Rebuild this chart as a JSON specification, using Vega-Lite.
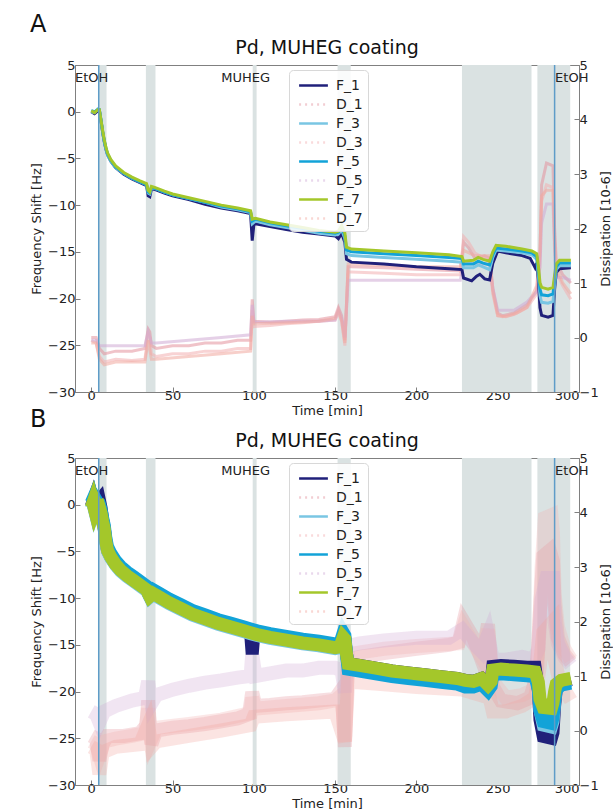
{
  "$schema": "https://vega.github.io/schema/vega-lite/v6.json",
  "padding": {"left": 30, "top": 12, "right": 0, "bottom": 0},
  "spacing": -11,
  "resolve": {"scale": {"color": "independent"}},
  "datasets": {
    "regions": [
      {"t": 4.6, "t2": 9.4}, {"t": 33.6, "t2": 39.5}, {"t": 99.3, "t2": 101.7},
      {"t": 151.5, "t2": 159.6}, {"t": 228, "t2": 270.8}, {"t": 274.4, "t2": 294.6}
    ],
    "events": [{"t": 4.6}, {"t": 285}],
    "notes": [{"label": "EtOH", "t": -10}, {"label": "MUHEG", "t": 80}, {"label": "EtOH", "t": 285.3}],
    "fA": [
      {"s":"F_1","t":0,"v":0.0},{"s":"F_1","t":2,"v":-0.2},{"s":"F_1","t":4,"v":0.1},{"s":"F_1","t":5,"v":0.1},{"s":"F_1","t":6,"v":-1.0},{"s":"F_1","t":7,"v":-2.2},{"s":"F_1","t":8,"v":-3.2},{"s":"F_1","t":9,"v":-4.0},{"s":"F_1","t":10,"v":-4.6},{"s":"F_1","t":12,"v":-5.3},{"s":"F_1","t":15,"v":-6.0},{"s":"F_1","t":20,"v":-6.7},{"s":"F_1","t":25,"v":-7.2},{"s":"F_1","t":30,"v":-7.6},{"s":"F_1","t":34,"v":-7.9},{"s":"F_1","t":35,"v":-9.0},{"s":"F_1","t":36,"v":-9.1},{"s":"F_1","t":37,"v":-8.3},{"s":"F_1","t":39,"v":-8.3},{"s":"F_1","t":45,"v":-8.7},{"s":"F_1","t":50,"v":-9.0},{"s":"F_1","t":60,"v":-9.4},{"s":"F_1","t":70,"v":-9.9},{"s":"F_1","t":80,"v":-10.3},{"s":"F_1","t":90,"v":-10.6},{"s":"F_1","t":98,"v":-10.9},{"s":"F_1","t":99,"v":-13.8},{"s":"F_1","t":100,"v":-12.1},{"s":"F_1","t":101,"v":-12.0},{"s":"F_1","t":110,"v":-12.3},{"s":"F_1","t":120,"v":-12.6},{"s":"F_1","t":130,"v":-12.9},{"s":"F_1","t":140,"v":-13.1},{"s":"F_1","t":150,"v":-13.3},{"s":"F_1","t":152,"v":-13.6},{"s":"F_1","t":154,"v":-13.0},{"s":"F_1","t":156,"v":-14.0},{"s":"F_1","t":157,"v":-15.8},{"s":"F_1","t":160,"v":-16.1},{"s":"F_1","t":180,"v":-16.3},{"s":"F_1","t":200,"v":-16.6},{"s":"F_1","t":220,"v":-16.8},{"s":"F_1","t":228,"v":-16.9},{"s":"F_1","t":229,"v":-17.8},{"s":"F_1","t":234,"v":-18.1},{"s":"F_1","t":237,"v":-17.6},{"s":"F_1","t":239,"v":-17.4},{"s":"F_1","t":242,"v":-17.9},{"s":"F_1","t":245,"v":-18.0},{"s":"F_1","t":247,"v":-16.2},{"s":"F_1","t":250,"v":-14.9},{"s":"F_1","t":255,"v":-15.1},{"s":"F_1","t":265,"v":-15.4},{"s":"F_1","t":270,"v":-15.7},{"s":"F_1","t":273,"v":-16.7},{"s":"F_1","t":274,"v":-16.2},{"s":"F_1","t":275,"v":-18.0},{"s":"F_1","t":276,"v":-21.0},{"s":"F_1","t":277,"v":-21.8},{"s":"F_1","t":281,"v":-22.0},{"s":"F_1","t":284,"v":-21.8},{"s":"F_1","t":285,"v":-19.0},{"s":"F_1","t":286,"v":-17.2},{"s":"F_1","t":288,"v":-16.8},{"s":"F_1","t":295,"v":-16.7},
      {"s":"F_3","t":0,"v":0.0},{"s":"F_3","t":2,"v":-0.1},{"s":"F_3","t":4,"v":0.3},{"s":"F_3","t":5,"v":0.2},{"s":"F_3","t":6,"v":-1.0},{"s":"F_3","t":7,"v":-2.2},{"s":"F_3","t":8,"v":-3.2},{"s":"F_3","t":9,"v":-4.0},{"s":"F_3","t":10,"v":-4.6},{"s":"F_3","t":12,"v":-5.3},{"s":"F_3","t":15,"v":-6.0},{"s":"F_3","t":20,"v":-6.6},{"s":"F_3","t":25,"v":-7.1},{"s":"F_3","t":30,"v":-7.5},{"s":"F_3","t":34,"v":-7.8},{"s":"F_3","t":35,"v":-8.7},{"s":"F_3","t":36,"v":-8.8},{"s":"F_3","t":37,"v":-8.2},{"s":"F_3","t":39,"v":-8.2},{"s":"F_3","t":45,"v":-8.6},{"s":"F_3","t":50,"v":-8.9},{"s":"F_3","t":60,"v":-9.3},{"s":"F_3","t":70,"v":-9.7},{"s":"F_3","t":80,"v":-10.2},{"s":"F_3","t":90,"v":-10.5},{"s":"F_3","t":98,"v":-10.8},{"s":"F_3","t":99,"v":-12.0},{"s":"F_3","t":101,"v":-11.7},{"s":"F_3","t":110,"v":-12.1},{"s":"F_3","t":120,"v":-12.4},{"s":"F_3","t":130,"v":-12.7},{"s":"F_3","t":140,"v":-13.0},{"s":"F_3","t":150,"v":-13.2},{"s":"F_3","t":152,"v":-13.1},{"s":"F_3","t":154,"v":-12.6},{"s":"F_3","t":156,"v":-13.6},{"s":"F_3","t":157,"v":-15.2},{"s":"F_3","t":160,"v":-15.4},{"s":"F_3","t":180,"v":-15.6},{"s":"F_3","t":200,"v":-15.8},{"s":"F_3","t":220,"v":-16.0},{"s":"F_3","t":228,"v":-16.1},{"s":"F_3","t":229,"v":-16.7},{"s":"F_3","t":235,"v":-16.7},{"s":"F_3","t":238,"v":-16.4},{"s":"F_3","t":241,"v":-16.6},{"s":"F_3","t":245,"v":-16.9},{"s":"F_3","t":247,"v":-15.6},{"s":"F_3","t":249,"v":-14.8},{"s":"F_3","t":255,"v":-14.9},{"s":"F_3","t":265,"v":-15.1},{"s":"F_3","t":271,"v":-15.3},{"s":"F_3","t":274,"v":-15.8},{"s":"F_3","t":275,"v":-17.5},{"s":"F_3","t":276,"v":-19.7},{"s":"F_3","t":277,"v":-20.4},{"s":"F_3","t":281,"v":-20.5},{"s":"F_3","t":284,"v":-20.3},{"s":"F_3","t":285,"v":-18.5},{"s":"F_3","t":286,"v":-16.9},{"s":"F_3","t":288,"v":-16.5},{"s":"F_3","t":295,"v":-16.5},
      {"s":"F_5","t":0,"v":0.1},{"s":"F_5","t":2,"v":0.0},{"s":"F_5","t":4,"v":0.2},{"s":"F_5","t":5,"v":0.2},{"s":"F_5","t":6,"v":-0.9},{"s":"F_5","t":7,"v":-2.1},{"s":"F_5","t":8,"v":-3.1},{"s":"F_5","t":9,"v":-3.9},{"s":"F_5","t":10,"v":-4.5},{"s":"F_5","t":12,"v":-5.2},{"s":"F_5","t":15,"v":-5.9},{"s":"F_5","t":20,"v":-6.6},{"s":"F_5","t":25,"v":-7.1},{"s":"F_5","t":30,"v":-7.5},{"s":"F_5","t":34,"v":-7.8},{"s":"F_5","t":35,"v":-8.6},{"s":"F_5","t":36,"v":-8.7},{"s":"F_5","t":37,"v":-8.1},{"s":"F_5","t":39,"v":-8.2},{"s":"F_5","t":45,"v":-8.6},{"s":"F_5","t":50,"v":-8.9},{"s":"F_5","t":60,"v":-9.3},{"s":"F_5","t":70,"v":-9.7},{"s":"F_5","t":80,"v":-10.1},{"s":"F_5","t":90,"v":-10.4},{"s":"F_5","t":98,"v":-10.7},{"s":"F_5","t":99,"v":-11.7},{"s":"F_5","t":101,"v":-11.5},{"s":"F_5","t":110,"v":-11.9},{"s":"F_5","t":120,"v":-12.2},{"s":"F_5","t":130,"v":-12.5},{"s":"F_5","t":140,"v":-12.8},{"s":"F_5","t":150,"v":-13.0},{"s":"F_5","t":152,"v":-12.9},{"s":"F_5","t":154,"v":-12.3},{"s":"F_5","t":156,"v":-13.3},{"s":"F_5","t":157,"v":-14.8},{"s":"F_5","t":160,"v":-15.0},{"s":"F_5","t":180,"v":-15.2},{"s":"F_5","t":200,"v":-15.4},{"s":"F_5","t":220,"v":-15.6},{"s":"F_5","t":228,"v":-15.7},{"s":"F_5","t":229,"v":-16.3},{"s":"F_5","t":235,"v":-16.3},{"s":"F_5","t":238,"v":-16.0},{"s":"F_5","t":241,"v":-16.2},{"s":"F_5","t":245,"v":-16.4},{"s":"F_5","t":247,"v":-15.3},{"s":"F_5","t":249,"v":-14.6},{"s":"F_5","t":255,"v":-14.7},{"s":"F_5","t":265,"v":-14.9},{"s":"F_5","t":271,"v":-15.1},{"s":"F_5","t":274,"v":-15.5},{"s":"F_5","t":275,"v":-17.0},{"s":"F_5","t":276,"v":-19.0},{"s":"F_5","t":277,"v":-19.6},{"s":"F_5","t":281,"v":-19.7},{"s":"F_5","t":284,"v":-19.5},{"s":"F_5","t":285,"v":-18.0},{"s":"F_5","t":286,"v":-16.6},{"s":"F_5","t":288,"v":-16.2},{"s":"F_5","t":295,"v":-16.2},
      {"s":"F_7","t":0,"v":0.1},{"s":"F_7","t":2,"v":-0.1},{"s":"F_7","t":4,"v":0.2},{"s":"F_7","t":5,"v":0.2},{"s":"F_7","t":6,"v":-0.9},{"s":"F_7","t":7,"v":-2.0},{"s":"F_7","t":8,"v":-3.0},{"s":"F_7","t":9,"v":-3.8},{"s":"F_7","t":10,"v":-4.4},{"s":"F_7","t":12,"v":-5.1},{"s":"F_7","t":15,"v":-5.8},{"s":"F_7","t":20,"v":-6.5},{"s":"F_7","t":25,"v":-7.0},{"s":"F_7","t":30,"v":-7.4},{"s":"F_7","t":34,"v":-7.7},{"s":"F_7","t":35,"v":-8.4},{"s":"F_7","t":36,"v":-8.6},{"s":"F_7","t":37,"v":-8.0},{"s":"F_7","t":39,"v":-8.1},{"s":"F_7","t":45,"v":-8.5},{"s":"F_7","t":50,"v":-8.8},{"s":"F_7","t":60,"v":-9.2},{"s":"F_7","t":70,"v":-9.6},{"s":"F_7","t":80,"v":-10.0},{"s":"F_7","t":90,"v":-10.3},{"s":"F_7","t":98,"v":-10.6},{"s":"F_7","t":99,"v":-11.5},{"s":"F_7","t":101,"v":-11.4},{"s":"F_7","t":110,"v":-11.8},{"s":"F_7","t":120,"v":-12.1},{"s":"F_7","t":130,"v":-12.4},{"s":"F_7","t":140,"v":-12.7},{"s":"F_7","t":150,"v":-12.9},{"s":"F_7","t":152,"v":-12.8},{"s":"F_7","t":154,"v":-12.2},{"s":"F_7","t":156,"v":-13.0},{"s":"F_7","t":157,"v":-14.5},{"s":"F_7","t":160,"v":-14.7},{"s":"F_7","t":180,"v":-14.9},{"s":"F_7","t":200,"v":-15.1},{"s":"F_7","t":220,"v":-15.3},{"s":"F_7","t":228,"v":-15.5},{"s":"F_7","t":229,"v":-16.0},{"s":"F_7","t":235,"v":-15.9},{"s":"F_7","t":238,"v":-15.6},{"s":"F_7","t":241,"v":-15.8},{"s":"F_7","t":245,"v":-16.0},{"s":"F_7","t":247,"v":-15.0},{"s":"F_7","t":249,"v":-14.3},{"s":"F_7","t":255,"v":-14.4},{"s":"F_7","t":265,"v":-14.7},{"s":"F_7","t":271,"v":-14.9},{"s":"F_7","t":274,"v":-15.2},{"s":"F_7","t":275,"v":-16.5},{"s":"F_7","t":276,"v":-18.3},{"s":"F_7","t":277,"v":-18.8},{"s":"F_7","t":281,"v":-19.0},{"s":"F_7","t":284,"v":-18.8},{"s":"F_7","t":285,"v":-17.5},{"s":"F_7","t":286,"v":-16.3},{"s":"F_7","t":288,"v":-15.9},{"s":"F_7","t":295,"v":-15.9}
    ],
    "dA": [
      {"s":"D_1","t":0,"v":0.0},{"s":"D_1","t":3,"v":0.0},{"s":"D_1","t":5,"v":-0.2},{"s":"D_1","t":8,"v":-0.3},{"s":"D_1","t":15,"v":-0.25},{"s":"D_1","t":25,"v":-0.25},{"s":"D_1","t":33,"v":-0.2},{"s":"D_1","t":35,"v":0.15},{"s":"D_1","t":36,"v":0.1},{"s":"D_1","t":37,"v":-0.15},{"s":"D_1","t":40,"v":-0.2},{"s":"D_1","t":50,"v":-0.15},{"s":"D_1","t":60,"v":-0.15},{"s":"D_1","t":70,"v":-0.1},{"s":"D_1","t":80,"v":-0.1},{"s":"D_1","t":90,"v":-0.05},{"s":"D_1","t":98,"v":-0.05},{"s":"D_1","t":99,"v":0.7},{"s":"D_1","t":100,"v":0.3},{"s":"D_1","t":110,"v":0.28},{"s":"D_1","t":120,"v":0.3},{"s":"D_1","t":130,"v":0.32},{"s":"D_1","t":140,"v":0.33},{"s":"D_1","t":150,"v":0.38},{"s":"D_1","t":152,"v":0.55},{"s":"D_1","t":154,"v":0.4},{"s":"D_1","t":156,"v":-0.05},{"s":"D_1","t":158,"v":1.3},{"s":"D_1","t":160,"v":1.3},{"s":"D_1","t":180,"v":1.28},{"s":"D_1","t":200,"v":1.25},{"s":"D_1","t":227,"v":1.22},{"s":"D_1","t":229,"v":1.75},{"s":"D_1","t":232,"v":1.65},{"s":"D_1","t":236,"v":1.45},{"s":"D_1","t":242,"v":1.5},{"s":"D_1","t":245,"v":1.45},{"s":"D_1","t":247,"v":0.9},{"s":"D_1","t":250,"v":0.45},{"s":"D_1","t":253,"v":0.4},{"s":"D_1","t":260,"v":0.45},{"s":"D_1","t":268,"v":0.6},{"s":"D_1","t":274,"v":0.85},{"s":"D_1","t":276,"v":1.5},{"s":"D_1","t":277,"v":2.8},{"s":"D_1","t":280,"v":3.2},{"s":"D_1","t":284,"v":3.15},{"s":"D_1","t":285,"v":2.0},{"s":"D_1","t":286,"v":1.4},{"s":"D_1","t":290,"v":1.15},{"s":"D_1","t":295,"v":1.0},
      {"s":"D_3","t":0,"v":-0.05},{"s":"D_3","t":3,"v":-0.1},{"s":"D_3","t":5,"v":-0.35},{"s":"D_3","t":8,"v":-0.45},{"s":"D_3","t":15,"v":-0.4},{"s":"D_3","t":25,"v":-0.42},{"s":"D_3","t":33,"v":-0.4},{"s":"D_3","t":35,"v":0.05},{"s":"D_3","t":36,"v":0.0},{"s":"D_3","t":37,"v":-0.3},{"s":"D_3","t":40,"v":-0.35},{"s":"D_3","t":50,"v":-0.3},{"s":"D_3","t":60,"v":-0.3},{"s":"D_3","t":70,"v":-0.25},{"s":"D_3","t":80,"v":-0.25},{"s":"D_3","t":90,"v":-0.2},{"s":"D_3","t":98,"v":-0.2},{"s":"D_3","t":99,"v":0.5},{"s":"D_3","t":100,"v":0.2},{"s":"D_3","t":110,"v":0.22},{"s":"D_3","t":120,"v":0.25},{"s":"D_3","t":130,"v":0.27},{"s":"D_3","t":140,"v":0.3},{"s":"D_3","t":150,"v":0.32},{"s":"D_3","t":152,"v":0.45},{"s":"D_3","t":154,"v":0.3},{"s":"D_3","t":156,"v":-0.15},{"s":"D_3","t":158,"v":1.2},{"s":"D_3","t":160,"v":1.2},{"s":"D_3","t":180,"v":1.18},{"s":"D_3","t":200,"v":1.15},{"s":"D_3","t":227,"v":1.15},{"s":"D_3","t":229,"v":1.85},{"s":"D_3","t":232,"v":1.75},{"s":"D_3","t":236,"v":1.55},{"s":"D_3","t":242,"v":1.45},{"s":"D_3","t":245,"v":1.4},{"s":"D_3","t":247,"v":0.8},{"s":"D_3","t":250,"v":0.4},{"s":"D_3","t":253,"v":0.38},{"s":"D_3","t":260,"v":0.42},{"s":"D_3","t":268,"v":0.55},{"s":"D_3","t":274,"v":0.8},{"s":"D_3","t":276,"v":1.3},{"s":"D_3","t":277,"v":2.5},{"s":"D_3","t":280,"v":2.8},{"s":"D_3","t":284,"v":2.75},{"s":"D_3","t":285,"v":1.8},{"s":"D_3","t":286,"v":1.2},{"s":"D_3","t":290,"v":0.95},{"s":"D_3","t":295,"v":0.7},
      {"s":"D_5","t":0,"v":-0.05},{"s":"D_5","t":3,"v":-0.05},{"s":"D_5","t":5,"v":-0.15},{"s":"D_5","t":8,"v":-0.15},{"s":"D_5","t":15,"v":-0.15},{"s":"D_5","t":25,"v":-0.15},{"s":"D_5","t":33,"v":-0.15},{"s":"D_5","t":35,"v":0.1},{"s":"D_5","t":37,"v":-0.1},{"s":"D_5","t":40,"v":-0.1},{"s":"D_5","t":60,"v":-0.05},{"s":"D_5","t":80,"v":0.0},{"s":"D_5","t":98,"v":0.05},{"s":"D_5","t":99,"v":0.6},{"s":"D_5","t":100,"v":0.28},{"s":"D_5","t":120,"v":0.3},{"s":"D_5","t":140,"v":0.3},{"s":"D_5","t":150,"v":0.32},{"s":"D_5","t":152,"v":0.5},{"s":"D_5","t":154,"v":0.35},{"s":"D_5","t":156,"v":0.0},{"s":"D_5","t":158,"v":1.05},{"s":"D_5","t":160,"v":1.05},{"s":"D_5","t":200,"v":1.05},{"s":"D_5","t":227,"v":1.05},{"s":"D_5","t":229,"v":1.4},{"s":"D_5","t":236,"v":1.35},{"s":"D_5","t":245,"v":1.35},{"s":"D_5","t":247,"v":0.9},{"s":"D_5","t":250,"v":0.5},{"s":"D_5","t":260,"v":0.5},{"s":"D_5","t":268,"v":0.65},{"s":"D_5","t":274,"v":0.85},{"s":"D_5","t":276,"v":1.3},{"s":"D_5","t":277,"v":2.1},{"s":"D_5","t":280,"v":2.45},{"s":"D_5","t":284,"v":2.45},{"s":"D_5","t":285,"v":1.6},{"s":"D_5","t":286,"v":1.1},{"s":"D_5","t":290,"v":1.1},{"s":"D_5","t":295,"v":1.05},
      {"s":"D_7","t":0,"v":-0.1},{"s":"D_7","t":3,"v":-0.1},{"s":"D_7","t":5,"v":-0.4},{"s":"D_7","t":8,"v":-0.5},{"s":"D_7","t":15,"v":-0.45},{"s":"D_7","t":25,"v":-0.45},{"s":"D_7","t":33,"v":-0.45},{"s":"D_7","t":35,"v":-0.05},{"s":"D_7","t":37,"v":-0.4},{"s":"D_7","t":40,"v":-0.4},{"s":"D_7","t":60,"v":-0.35},{"s":"D_7","t":80,"v":-0.3},{"s":"D_7","t":98,"v":-0.25},{"s":"D_7","t":99,"v":0.4},{"s":"D_7","t":100,"v":0.25},{"s":"D_7","t":120,"v":0.27},{"s":"D_7","t":140,"v":0.3},{"s":"D_7","t":150,"v":0.35},{"s":"D_7","t":152,"v":0.5},{"s":"D_7","t":154,"v":0.3},{"s":"D_7","t":156,"v":-0.1},{"s":"D_7","t":158,"v":1.35},{"s":"D_7","t":160,"v":1.35},{"s":"D_7","t":200,"v":1.3},{"s":"D_7","t":227,"v":1.3},{"s":"D_7","t":229,"v":1.6},{"s":"D_7","t":236,"v":1.5},{"s":"D_7","t":245,"v":1.5},{"s":"D_7","t":247,"v":0.85},{"s":"D_7","t":250,"v":0.4},{"s":"D_7","t":255,"v":0.38},{"s":"D_7","t":262,"v":0.45},{"s":"D_7","t":268,"v":0.55},{"s":"D_7","t":274,"v":0.95},{"s":"D_7","t":276,"v":1.6},{"s":"D_7","t":277,"v":2.6},{"s":"D_7","t":280,"v":2.7},{"s":"D_7","t":284,"v":2.7},{"s":"D_7","t":285,"v":1.7},{"s":"D_7","t":286,"v":1.3},{"s":"D_7","t":290,"v":1.0},{"s":"D_7","t":295,"v":0.8}
    ],
    "fB": [
      {"s":"F_1","t":0,"v":-0.2},{"s":"F_1","t":1,"v":0.3},{"s":"F_1","t":2,"v":-0.4},{"s":"F_1","t":3,"v":0.1},{"s":"F_1","t":4,"v":0.3},{"s":"F_1","t":5,"v":0.5},{"s":"F_1","t":6,"v":-0.3},{"s":"F_1","t":7,"v":-1.6},{"s":"F_1","t":8,"v":-2.5},{"s":"F_1","t":9,"v":-3.9},{"s":"F_1","t":10,"v":-4.9},{"s":"F_1","t":12,"v":-5.6},{"s":"F_1","t":15,"v":-6.4},{"s":"F_1","t":18,"v":-7.0},{"s":"F_1","t":22,"v":-7.6},{"s":"F_1","t":26,"v":-8.1},{"s":"F_1","t":30,"v":-8.6},{"s":"F_1","t":34,"v":-9.1},{"s":"F_1","t":36,"v":-9.8},{"s":"F_1","t":38,"v":-9.5},{"s":"F_1","t":42,"v":-9.9},{"s":"F_1","t":48,"v":-10.5},{"s":"F_1","t":55,"v":-11.1},{"s":"F_1","t":62,"v":-11.7},{"s":"F_1","t":70,"v":-12.2},{"s":"F_1","t":78,"v":-12.7},{"s":"F_1","t":86,"v":-13.1},{"s":"F_1","t":94,"v":-13.5},{"s":"F_1","t":98,"v":-13.7},{"s":"F_1","t":99,"v":-16.0},{"s":"F_1","t":100,"v":-13.9},{"s":"F_1","t":102,"v":-13.9},{"s":"F_1","t":110,"v":-14.2},{"s":"F_1","t":120,"v":-14.5},{"s":"F_1","t":130,"v":-14.8},{"s":"F_1","t":140,"v":-15.0},{"s":"F_1","t":150,"v":-15.3},{"s":"F_1","t":153,"v":-15.2},{"s":"F_1","t":155,"v":-14.2},{"s":"F_1","t":156,"v":-14.4},{"s":"F_1","t":157,"v":-16.0},{"s":"F_1","t":158,"v":-17.0},{"s":"F_1","t":165,"v":-17.2},{"s":"F_1","t":175,"v":-17.5},{"s":"F_1","t":185,"v":-17.8},{"s":"F_1","t":195,"v":-18.0},{"s":"F_1","t":205,"v":-18.2},{"s":"F_1","t":215,"v":-18.4},{"s":"F_1","t":225,"v":-18.6},{"s":"F_1","t":230,"v":-18.8},{"s":"F_1","t":235,"v":-18.9},{"s":"F_1","t":240,"v":-18.6},{"s":"F_1","t":244,"v":-19.3},{"s":"F_1","t":246,"v":-18.9},{"s":"F_1","t":247,"v":-17.3},{"s":"F_1","t":252,"v":-17.2},{"s":"F_1","t":260,"v":-17.3},{"s":"F_1","t":268,"v":-17.4},{"s":"F_1","t":273,"v":-17.4},{"s":"F_1","t":275,"v":-19.8},{"s":"F_1","t":276,"v":-23.0},{"s":"F_1","t":278,"v":-24.8},{"s":"F_1","t":283,"v":-25.0},{"s":"F_1","t":284,"v":-24.4},{"s":"F_1","t":285,"v":-21.5},{"s":"F_1","t":286,"v":-19.8},{"s":"F_1","t":289,"v":-19.0},{"s":"F_1","t":295,"v":-18.7},
      {"s":"F_3","t":0,"v":-0.4},{"s":"F_3","t":1,"v":0.1},{"s":"F_3","t":2,"v":-0.6},{"s":"F_3","t":3,"v":-0.1},{"s":"F_3","t":4,"v":-0.5},{"s":"F_3","t":5,"v":-0.4},{"s":"F_3","t":6,"v":-1.0},{"s":"F_3","t":7,"v":-1.9},{"s":"F_3","t":8,"v":-2.7},{"s":"F_3","t":9,"v":-4.1},{"s":"F_3","t":10,"v":-5.0},{"s":"F_3","t":12,"v":-5.7},{"s":"F_3","t":15,"v":-6.5},{"s":"F_3","t":18,"v":-7.1},{"s":"F_3","t":22,"v":-7.7},{"s":"F_3","t":26,"v":-8.2},{"s":"F_3","t":30,"v":-8.7},{"s":"F_3","t":34,"v":-9.2},{"s":"F_3","t":36,"v":-9.9},{"s":"F_3","t":38,"v":-9.6},{"s":"F_3","t":42,"v":-10.0},{"s":"F_3","t":48,"v":-10.6},{"s":"F_3","t":55,"v":-11.2},{"s":"F_3","t":62,"v":-11.8},{"s":"F_3","t":70,"v":-12.3},{"s":"F_3","t":78,"v":-12.8},{"s":"F_3","t":86,"v":-13.2},{"s":"F_3","t":94,"v":-13.6},{"s":"F_3","t":98,"v":-13.8},{"s":"F_3","t":102,"v":-14.0},{"s":"F_3","t":110,"v":-14.3},{"s":"F_3","t":120,"v":-14.6},{"s":"F_3","t":130,"v":-14.9},{"s":"F_3","t":140,"v":-15.1},{"s":"F_3","t":150,"v":-15.4},{"s":"F_3","t":153,"v":-15.3},{"s":"F_3","t":155,"v":-14.3},{"s":"F_3","t":156,"v":-14.5},{"s":"F_3","t":157,"v":-16.1},{"s":"F_3","t":158,"v":-17.2},{"s":"F_3","t":165,"v":-17.4},{"s":"F_3","t":175,"v":-17.7},{"s":"F_3","t":185,"v":-18.0},{"s":"F_3","t":195,"v":-18.2},{"s":"F_3","t":205,"v":-18.4},{"s":"F_3","t":215,"v":-18.6},{"s":"F_3","t":225,"v":-18.8},{"s":"F_3","t":230,"v":-19.0},{"s":"F_3","t":235,"v":-19.1},{"s":"F_3","t":240,"v":-18.8},{"s":"F_3","t":244,"v":-19.5},{"s":"F_3","t":246,"v":-19.1},{"s":"F_3","t":247,"v":-17.9},{"s":"F_3","t":252,"v":-17.8},{"s":"F_3","t":260,"v":-17.9},{"s":"F_3","t":268,"v":-18.0},{"s":"F_3","t":273,"v":-18.1},{"s":"F_3","t":275,"v":-19.6},{"s":"F_3","t":276,"v":-22.0},{"s":"F_3","t":278,"v":-23.6},{"s":"F_3","t":283,"v":-23.8},{"s":"F_3","t":284,"v":-23.2},{"s":"F_3","t":285,"v":-21.0},{"s":"F_3","t":286,"v":-19.6},{"s":"F_3","t":289,"v":-19.0},{"s":"F_3","t":295,"v":-18.8},
      {"s":"F_5","t":0,"v":0.2},{"s":"F_5","t":1,"v":0.6},{"s":"F_5","t":2,"v":0.0},{"s":"F_5","t":3,"v":0.5},{"s":"F_5","t":4,"v":0.2},{"s":"F_5","t":5,"v":0.1},{"s":"F_5","t":6,"v":-0.5},{"s":"F_5","t":7,"v":-1.4},{"s":"F_5","t":8,"v":-2.2},{"s":"F_5","t":9,"v":-3.6},{"s":"F_5","t":10,"v":-4.5},{"s":"F_5","t":12,"v":-5.2},{"s":"F_5","t":15,"v":-6.0},{"s":"F_5","t":18,"v":-6.6},{"s":"F_5","t":22,"v":-7.2},{"s":"F_5","t":26,"v":-7.7},{"s":"F_5","t":30,"v":-8.2},{"s":"F_5","t":34,"v":-8.7},{"s":"F_5","t":36,"v":-9.4},{"s":"F_5","t":38,"v":-9.1},{"s":"F_5","t":42,"v":-9.5},{"s":"F_5","t":48,"v":-10.1},{"s":"F_5","t":55,"v":-10.7},{"s":"F_5","t":62,"v":-11.3},{"s":"F_5","t":70,"v":-11.8},{"s":"F_5","t":78,"v":-12.3},{"s":"F_5","t":86,"v":-12.7},{"s":"F_5","t":94,"v":-13.1},{"s":"F_5","t":98,"v":-13.3},{"s":"F_5","t":102,"v":-13.5},{"s":"F_5","t":110,"v":-13.8},{"s":"F_5","t":120,"v":-14.1},{"s":"F_5","t":130,"v":-14.4},{"s":"F_5","t":140,"v":-14.6},{"s":"F_5","t":150,"v":-14.9},{"s":"F_5","t":153,"v":-14.8},{"s":"F_5","t":155,"v":-13.7},{"s":"F_5","t":156,"v":-14.0},{"s":"F_5","t":157,"v":-16.0},{"s":"F_5","t":158,"v":-17.6},{"s":"F_5","t":165,"v":-17.8},{"s":"F_5","t":175,"v":-18.1},{"s":"F_5","t":185,"v":-18.4},{"s":"F_5","t":195,"v":-18.6},{"s":"F_5","t":205,"v":-18.8},{"s":"F_5","t":215,"v":-19.0},{"s":"F_5","t":225,"v":-19.2},{"s":"F_5","t":230,"v":-19.5},{"s":"F_5","t":235,"v":-19.5},{"s":"F_5","t":240,"v":-19.2},{"s":"F_5","t":244,"v":-19.9},{"s":"F_5","t":246,"v":-19.4},{"s":"F_5","t":247,"v":-18.2},{"s":"F_5","t":252,"v":-18.1},{"s":"F_5","t":260,"v":-18.2},{"s":"F_5","t":268,"v":-18.3},{"s":"F_5","t":273,"v":-18.4},{"s":"F_5","t":275,"v":-19.8},{"s":"F_5","t":276,"v":-22.0},{"s":"F_5","t":278,"v":-23.2},{"s":"F_5","t":283,"v":-23.4},{"s":"F_5","t":284,"v":-22.8},{"s":"F_5","t":285,"v":-21.0},{"s":"F_5","t":286,"v":-19.8},{"s":"F_5","t":289,"v":-19.3},{"s":"F_5","t":295,"v":-19.1},
      {"s":"F_7","t":0,"v":-0.3},{"s":"F_7","t":1,"v":0.2},{"s":"F_7","t":2,"v":-0.5},{"s":"F_7","t":3,"v":0.0},{"s":"F_7","t":4,"v":-0.4},{"s":"F_7","t":5,"v":-0.3},{"s":"F_7","t":6,"v":-0.9},{"s":"F_7","t":7,"v":-1.8},{"s":"F_7","t":8,"v":-2.6},{"s":"F_7","t":9,"v":-4.0},{"s":"F_7","t":10,"v":-4.9},{"s":"F_7","t":12,"v":-5.6},{"s":"F_7","t":15,"v":-6.4},{"s":"F_7","t":18,"v":-7.0},{"s":"F_7","t":22,"v":-7.6},{"s":"F_7","t":26,"v":-8.1},{"s":"F_7","t":30,"v":-8.6},{"s":"F_7","t":34,"v":-9.1},{"s":"F_7","t":36,"v":-9.8},{"s":"F_7","t":38,"v":-9.5},{"s":"F_7","t":42,"v":-9.9},{"s":"F_7","t":48,"v":-10.5},{"s":"F_7","t":55,"v":-11.1},{"s":"F_7","t":62,"v":-11.7},{"s":"F_7","t":70,"v":-12.2},{"s":"F_7","t":78,"v":-12.7},{"s":"F_7","t":86,"v":-13.1},{"s":"F_7","t":94,"v":-13.5},{"s":"F_7","t":98,"v":-13.7},{"s":"F_7","t":102,"v":-13.9},{"s":"F_7","t":110,"v":-14.2},{"s":"F_7","t":120,"v":-14.5},{"s":"F_7","t":130,"v":-14.8},{"s":"F_7","t":140,"v":-15.0},{"s":"F_7","t":150,"v":-15.3},{"s":"F_7","t":153,"v":-15.2},{"s":"F_7","t":155,"v":-14.2},{"s":"F_7","t":156,"v":-14.4},{"s":"F_7","t":157,"v":-16.0},{"s":"F_7","t":158,"v":-17.0},{"s":"F_7","t":165,"v":-17.2},{"s":"F_7","t":175,"v":-17.5},{"s":"F_7","t":185,"v":-17.8},{"s":"F_7","t":195,"v":-18.0},{"s":"F_7","t":205,"v":-18.2},{"s":"F_7","t":215,"v":-18.4},{"s":"F_7","t":225,"v":-18.6},{"s":"F_7","t":230,"v":-18.8},{"s":"F_7","t":235,"v":-18.9},{"s":"F_7","t":240,"v":-18.6},{"s":"F_7","t":244,"v":-19.3},{"s":"F_7","t":246,"v":-18.9},{"s":"F_7","t":247,"v":-17.7},{"s":"F_7","t":252,"v":-17.6},{"s":"F_7","t":260,"v":-17.7},{"s":"F_7","t":268,"v":-17.8},{"s":"F_7","t":273,"v":-17.9},{"s":"F_7","t":275,"v":-19.0},{"s":"F_7","t":276,"v":-20.8},{"s":"F_7","t":278,"v":-21.7},{"s":"F_7","t":283,"v":-21.8},{"s":"F_7","t":284,"v":-21.2},{"s":"F_7","t":285,"v":-20.0},{"s":"F_7","t":286,"v":-19.2},{"s":"F_7","t":289,"v":-18.8},{"s":"F_7","t":295,"v":-18.6}
    ],
    "dB": [
      {"s":"D_1","t":0,"v":-0.1},{"s":"D_1","t":3,"v":-0.15},{"s":"D_1","t":5,"v":-0.55},{"s":"D_1","t":7,"v":-0.25},{"s":"D_1","t":10,"v":-0.1},{"s":"D_1","t":20,"v":-0.1},{"s":"D_1","t":30,"v":-0.05},{"s":"D_1","t":34,"v":0.1},{"s":"D_1","t":35,"v":0.55},{"s":"D_1","t":36,"v":0.1},{"s":"D_1","t":37,"v":-0.25},{"s":"D_1","t":40,"v":0.0},{"s":"D_1","t":50,"v":0.05},{"s":"D_1","t":60,"v":0.08},{"s":"D_1","t":70,"v":0.12},{"s":"D_1","t":80,"v":0.17},{"s":"D_1","t":90,"v":0.22},{"s":"D_1","t":97,"v":0.3},{"s":"D_1","t":99,"v":0.7},{"s":"D_1","t":101,"v":0.45},{"s":"D_1","t":110,"v":0.47},{"s":"D_1","t":120,"v":0.5},{"s":"D_1","t":130,"v":0.52},{"s":"D_1","t":140,"v":0.55},{"s":"D_1","t":150,"v":0.58},{"s":"D_1","t":154,"v":0.75},{"s":"D_1","t":156,"v":-0.3},{"s":"D_1","t":158,"v":1.3},{"s":"D_1","t":165,"v":1.35},{"s":"D_1","t":180,"v":1.42},{"s":"D_1","t":200,"v":1.5},{"s":"D_1","t":220,"v":1.57},{"s":"D_1","t":226,"v":1.62},{"s":"D_1","t":229,"v":2.0},{"s":"D_1","t":235,"v":1.7},{"s":"D_1","t":240,"v":1.3},{"s":"D_1","t":244,"v":1.95},{"s":"D_1","t":247,"v":0.8},{"s":"D_1","t":252,"v":0.55},{"s":"D_1","t":262,"v":0.5},{"s":"D_1","t":270,"v":0.6},{"s":"D_1","t":274,"v":1.0},{"s":"D_1","t":276,"v":2.2},{"s":"D_1","t":278,"v":3.2},{"s":"D_1","t":282,"v":3.3},{"s":"D_1","t":284,"v":3.1},{"s":"D_1","t":285,"v":2.3},{"s":"D_1","t":287,"v":1.7},{"s":"D_1","t":291,"v":1.4},{"s":"D_1","t":295,"v":1.25},
      {"s":"D_3","t":0,"v":-0.2},{"s":"D_3","t":3,"v":-0.25},{"s":"D_3","t":5,"v":-0.45},{"s":"D_3","t":8,"v":-0.2},{"s":"D_3","t":15,"v":-0.15},{"s":"D_3","t":25,"v":-0.1},{"s":"D_3","t":33,"v":-0.05},{"s":"D_3","t":35,"v":0.4},{"s":"D_3","t":37,"v":-0.15},{"s":"D_3","t":40,"v":0.05},{"s":"D_3","t":60,"v":0.12},{"s":"D_3","t":80,"v":0.2},{"s":"D_3","t":98,"v":0.32},{"s":"D_3","t":99,"v":0.6},{"s":"D_3","t":101,"v":0.4},{"s":"D_3","t":120,"v":0.45},{"s":"D_3","t":140,"v":0.5},{"s":"D_3","t":150,"v":0.55},{"s":"D_3","t":154,"v":0.65},{"s":"D_3","t":156,"v":-0.2},{"s":"D_3","t":158,"v":1.4},{"s":"D_3","t":180,"v":1.5},{"s":"D_3","t":200,"v":1.55},{"s":"D_3","t":226,"v":1.6},{"s":"D_3","t":229,"v":1.9},{"s":"D_3","t":235,"v":1.6},{"s":"D_3","t":240,"v":1.35},{"s":"D_3","t":244,"v":1.85},{"s":"D_3","t":247,"v":0.9},{"s":"D_3","t":255,"v":0.6},{"s":"D_3","t":265,"v":0.65},{"s":"D_3","t":272,"v":0.75},{"s":"D_3","t":275,"v":1.5},{"s":"D_3","t":277,"v":3.0},{"s":"D_3","t":279,"v":3.9},{"s":"D_3","t":283,"v":3.95},{"s":"D_3","t":284,"v":3.6},{"s":"D_3","t":285,"v":2.5},{"s":"D_3","t":287,"v":1.9},{"s":"D_3","t":291,"v":1.5},{"s":"D_3","t":295,"v":1.3},
      {"s":"D_5","t":0,"v":0.35},{"s":"D_5","t":3,"v":0.3},{"s":"D_5","t":5,"v":0.15},{"s":"D_5","t":8,"v":0.35},{"s":"D_5","t":15,"v":0.45},{"s":"D_5","t":25,"v":0.55},{"s":"D_5","t":33,"v":0.6},{"s":"D_5","t":35,"v":0.9},{"s":"D_5","t":37,"v":0.5},{"s":"D_5","t":40,"v":0.65},{"s":"D_5","t":50,"v":0.75},{"s":"D_5","t":60,"v":0.82},{"s":"D_5","t":70,"v":0.88},{"s":"D_5","t":80,"v":0.92},{"s":"D_5","t":90,"v":0.97},{"s":"D_5","t":98,"v":1.0},{"s":"D_5","t":99,"v":1.4},{"s":"D_5","t":101,"v":1.0},{"s":"D_5","t":110,"v":1.05},{"s":"D_5","t":120,"v":1.1},{"s":"D_5","t":130,"v":1.1},{"s":"D_5","t":140,"v":1.15},{"s":"D_5","t":150,"v":1.15},{"s":"D_5","t":154,"v":1.1},{"s":"D_5","t":156,"v":0.7},{"s":"D_5","t":158,"v":1.55},{"s":"D_5","t":165,"v":1.6},{"s":"D_5","t":180,"v":1.65},{"s":"D_5","t":200,"v":1.7},{"s":"D_5","t":220,"v":1.7},{"s":"D_5","t":228,"v":1.85},{"s":"D_5","t":235,"v":1.6},{"s":"D_5","t":240,"v":1.45},{"s":"D_5","t":244,"v":1.75},{"s":"D_5","t":247,"v":1.3},{"s":"D_5","t":255,"v":1.3},{"s":"D_5","t":265,"v":1.35},{"s":"D_5","t":272,"v":1.3},{"s":"D_5","t":275,"v":1.5},{"s":"D_5","t":277,"v":2.4},{"s":"D_5","t":280,"v":2.8},{"s":"D_5","t":284,"v":2.8},{"s":"D_5","t":285,"v":2.0},{"s":"D_5","t":287,"v":1.6},{"s":"D_5","t":291,"v":1.35},{"s":"D_5","t":295,"v":1.2},
      {"s":"D_7","t":0,"v":-0.3},{"s":"D_7","t":3,"v":-0.35},{"s":"D_7","t":5,"v":-0.8},{"s":"D_7","t":7,"v":-0.4},{"s":"D_7","t":15,"v":-0.3},{"s":"D_7","t":30,"v":-0.25},{"s":"D_7","t":35,"v":0.1},{"s":"D_7","t":37,"v":-0.3},{"s":"D_7","t":40,"v":-0.2},{"s":"D_7","t":60,"v":-0.1},{"s":"D_7","t":80,"v":0.0},{"s":"D_7","t":98,"v":0.1},{"s":"D_7","t":100,"v":0.25},{"s":"D_7","t":120,"v":0.3},{"s":"D_7","t":150,"v":0.35},{"s":"D_7","t":156,"v":-0.2},{"s":"D_7","t":158,"v":0.9},{"s":"D_7","t":180,"v":0.85},{"s":"D_7","t":200,"v":0.8},{"s":"D_7","t":228,"v":0.75},{"s":"D_7","t":245,"v":0.6},{"s":"D_7","t":247,"v":0.35},{"s":"D_7","t":255,"v":0.35},{"s":"D_7","t":265,"v":0.45},{"s":"D_7","t":273,"v":0.6},{"s":"D_7","t":276,"v":1.2},{"s":"D_7","t":278,"v":1.8},{"s":"D_7","t":284,"v":2.0},{"s":"D_7","t":285,"v":1.3},{"s":"D_7","t":288,"v":0.9},{"s":"D_7","t":295,"v":0.55}
    ]
  },
  "vconcat": [
    {
      "title": {"text": "A", "anchor": "start", "frame": "bounds", "fontSize": 24, "fontWeight": "normal", "offset": 2},
      "vconcat": [
        {
          "title": {"text": "Pd, MUHEG coating", "fontSize": 19, "fontWeight": "normal", "offset": 1},
          "width": 504,
          "height": 327,
          "encoding": {
            "x": {"field": "t", "type": "quantitative", "title": "Time [min]", "scale": {"domain": [-10, 300], "nice": false, "zero": false},
              "axis": {"values": [0, 50, 100, 150, 200, 250, 300]}}
          },
          "layer": [
            {
              "data": {"name": "regions"},
              "mark": {"type": "rect", "color": "#dae2e2"},
              "encoding": {"x2": {"field": "t2"}}
            },
            {
              "data": {"name": "dA"},
              "mark": {"type": "line"},
              "encoding": {
                "y": {"field": "v", "type": "quantitative", "scale": {"domain": [-1, 5], "nice": false, "zero": false},
                  "axis": {"orient": "right", "title": "Dissipation [10-6]", "titleAngle": 270, "titleBaseline": "top", "titlePadding": 1, "values": [-1, 0, 1, 2, 3, 4, 5]}},
                "color": {"field": "s", "type": "nominal",
                  "scale": {"domain": ["F_1", "D_1", "F_3", "D_3", "F_5", "D_5", "F_7", "D_7"], "range": ["#20207a", "#e3919c", "#79c6e3", "#f2aeb0", "#12a3d8", "#cfa9d4", "#a4c72a", "#f1a79e"]},
                  "legend": {"title": null, "encode": {"symbols": {"update": {"strokeDash": {"signal": "indexof(datum.value, 'D') === 0 ? [2, 4] : [1, 0]"}, "strokeOpacity": {"signal": "indexof(datum.value, 'D') === 0 ? 0.45 : 1"}, "strokeWidth": {"value": 2.5}}}}}},
                "strokeWidth": {"value": 3},
                "strokeOpacity": {"value": 0.55}
              }
            },
            {
              "data": {"name": "fA"},
              "mark": {"type": "line"},
              "encoding": {
                "y": {"field": "v", "type": "quantitative", "title": "Frequency Shift [Hz]", "scale": {"domain": [-30, 5], "nice": false, "zero": false},
                  "axis": {"orient": "left", "values": [-30, -25, -20, -15, -10, -5, 0, 5]}},
                "color": {"field": "s", "type": "nominal",
                  "scale": {"domain": ["F_1", "D_1", "F_3", "D_3", "F_5", "D_5", "F_7", "D_7"], "range": ["#20207a", "#e3919c", "#79c6e3", "#f2aeb0", "#12a3d8", "#cfa9d4", "#a4c72a", "#f1a79e"]},
                  "legend": {"title": null, "encode": {"symbols": {"update": {"strokeDash": {"signal": "indexof(datum.value, 'D') === 0 ? [2, 4] : [1, 0]"}, "strokeOpacity": {"signal": "indexof(datum.value, 'D') === 0 ? 0.45 : 1"}, "strokeWidth": {"value": 2.5}}}}}},
                "strokeWidth": {"value": 3}
              }
            },
            {
              "data": {"name": "notes"},
              "mark": {"type": "text", "align": "left", "baseline": "middle", "fontSize": 13, "color": "#222"},
              "encoding": {
                "y": {"datum": 3.6, "type": "quantitative", "scale": {"domain": [-30, 5], "nice": false, "zero": false}, "axis": null},
                "text": {"field": "label"}
              }
            },
            {
              "data": {"name": "events"},
              "mark": {"type": "rule", "color": "#5e9cc8", "strokeWidth": 1.5},
              "encoding": {}
            }
          ],
          "resolve": {"scale": {"y": "independent"}}
        }
      ]
    },
    {
      "title": {"text": "B", "anchor": "start", "frame": "bounds", "fontSize": 24, "fontWeight": "normal", "offset": 0},
      "vconcat": [
        {
          "title": {"text": "Pd, MUHEG coating", "fontSize": 19, "fontWeight": "normal", "offset": 1},
          "width": 504,
          "height": 327,
          "encoding": {
            "x": {"field": "t", "type": "quantitative", "title": "Time [min]", "scale": {"domain": [-10, 300], "nice": false, "zero": false},
              "axis": {"values": [0, 50, 100, 150, 200, 250, 300]}}
          },
          "layer": [
            {
              "data": {"name": "regions"},
              "mark": {"type": "rect", "color": "#dae2e2"},
              "encoding": {"x2": {"field": "t2"}}
            },
            {
              "data": {"name": "dB"},
              "mark": {"type": "line"},
              "encoding": {
                "y": {"field": "v", "type": "quantitative", "scale": {"domain": [-1, 5], "nice": false, "zero": false},
                  "axis": {"orient": "right", "title": "Dissipation [10-6]", "titleAngle": 270, "titleBaseline": "top", "titlePadding": 1, "values": [-1, 0, 1, 2, 3, 4, 5]}},
                "color": {"field": "s", "type": "nominal",
                  "scale": {"domain": ["F_1", "D_1", "F_3", "D_3", "F_5", "D_5", "F_7", "D_7"], "range": ["#20207a", "#e3919c", "#79c6e3", "#f2aeb0", "#12a3d8", "#cfa9d4", "#a4c72a", "#f1a79e"]},
                  "legend": {"title": null, "encode": {"symbols": {"update": {"strokeDash": {"signal": "indexof(datum.value, 'D') === 0 ? [2, 4] : [1, 0]"}, "strokeOpacity": {"signal": "indexof(datum.value, 'D') === 0 ? 0.45 : 1"}, "strokeWidth": {"value": 2.5}}}}}},
                "strokeWidth": {"value": 14},
                "strokeOpacity": {"value": 0.3}
              }
            },
            {
              "data": {"name": "fB"},
              "mark": {"type": "line"},
              "encoding": {
                "y": {"field": "v", "type": "quantitative", "title": "Frequency Shift [Hz]", "scale": {"domain": [-30, 5], "nice": false, "zero": false},
                  "axis": {"orient": "left", "values": [-30, -25, -20, -15, -10, -5, 0, 5]}},
                "color": {"field": "s", "type": "nominal",
                  "scale": {"domain": ["F_1", "D_1", "F_3", "D_3", "F_5", "D_5", "F_7", "D_7"], "range": ["#20207a", "#e3919c", "#79c6e3", "#f2aeb0", "#12a3d8", "#cfa9d4", "#a4c72a", "#f1a79e"]},
                  "legend": {"title": null, "encode": {"symbols": {"update": {"strokeDash": {"signal": "indexof(datum.value, 'D') === 0 ? [2, 4] : [1, 0]"}, "strokeOpacity": {"signal": "indexof(datum.value, 'D') === 0 ? 0.45 : 1"}, "strokeWidth": {"value": 2.5}}}}}},
                "strokeWidth": {"value": 13}
              }
            },
            {
              "data": {"name": "notes"},
              "mark": {"type": "text", "align": "left", "baseline": "middle", "fontSize": 13, "color": "#222"},
              "encoding": {
                "y": {"datum": 3.6, "type": "quantitative", "scale": {"domain": [-30, 5], "nice": false, "zero": false}, "axis": null},
                "text": {"field": "label"}
              }
            },
            {
              "data": {"name": "events"},
              "mark": {"type": "rule", "color": "#5e9cc8", "strokeWidth": 1.5},
              "encoding": {}
            }
          ],
          "resolve": {"scale": {"y": "independent"}}
        }
      ]
    }
  ],
  "config": {
    "font": "DejaVu Sans",
    "view": {"stroke": "#808080"},
    "title": {"font": "DejaVu Sans", "color": "#111"},
    "axis": {
      "grid": false,
      "domainColor": "#808080",
      "tickColor": "#808080",
      "tickSize": -5,
      "labelFontSize": 13,
      "labelColor": "#222",
      "labelFont": "DejaVu Sans",
      "titleFont": "DejaVu Sans",
      "titleFontSize": 13,
      "titleFontWeight": "normal",
      "titleColor": "#222",
      "titlePadding": 4
    },
    "axisX": {"labelPadding": 2, "titlePadding": 2},
    "axisY": {"labelPadding": 5},
    "legend": {
      "orient": "none",
      "legendX": 214,
      "legendY": 5,
      "fillColor": "rgba(255,255,255,0.85)",
      "strokeColor": "#d8d8d8",
      "cornerRadius": 4,
      "padding": 5,
      "rowPadding": 1,
      "labelFontSize": 14,
      "labelFont": "DejaVu Sans",
      "labelColor": "#222",
      "labelOffset": 21,
      "symbolType": "M-0.6,0H2.6",
      "symbolSize": 324,
      "symbolStrokeWidth": 2.5
    }
  }
}
